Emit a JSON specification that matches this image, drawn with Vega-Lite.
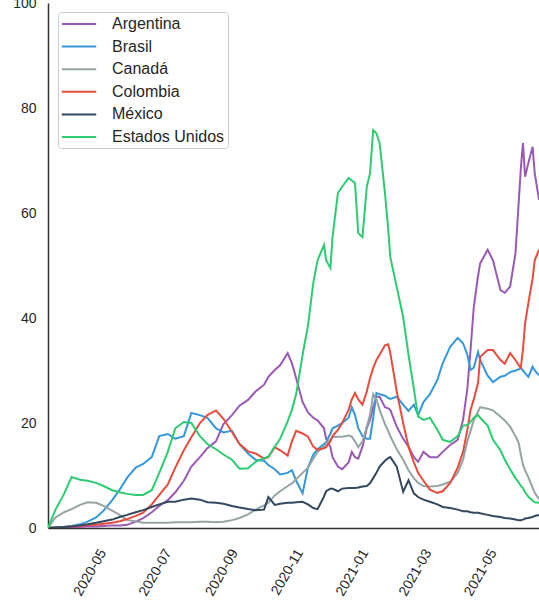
{
  "$schema": "https://vega.github.io/schema/vega-lite/v6.json",
  "width": 491,
  "height": 525,
  "autosize": {"type": "none"},
  "padding": {"left": 48, "top": 3, "right": 0, "bottom": 75},
  "background": "white",
  "data": {
    "values": [
      {"fecha":"2020-03-22","pais":"Argentina","valor":0},{"fecha":"2020-03-29","pais":"Argentina","valor":0.1},{"fecha":"2020-04-06","pais":"Argentina","valor":0.1},{"fecha":"2020-04-13","pais":"Argentina","valor":0.2},{"fecha":"2020-04-21","pais":"Argentina","valor":0.2},{"fecha":"2020-04-28","pais":"Argentina","valor":0.3},{"fecha":"2020-05-06","pais":"Argentina","valor":0.3},{"fecha":"2020-05-13","pais":"Argentina","valor":0.4},{"fecha":"2020-05-21","pais":"Argentina","valor":0.5},{"fecha":"2020-05-28","pais":"Argentina","valor":0.5},{"fecha":"2020-06-04","pais":"Argentina","valor":0.6},{"fecha":"2020-06-12","pais":"Argentina","valor":1.2},{"fecha":"2020-06-19","pais":"Argentina","valor":1.9},{"fecha":"2020-06-27","pais":"Argentina","valor":3.0},{"fecha":"2020-07-04","pais":"Argentina","valor":4.2},{"fecha":"2020-07-12","pais":"Argentina","valor":5.3},{"fecha":"2020-07-19","pais":"Argentina","valor":6.8},{"fecha":"2020-07-27","pais":"Argentina","valor":9.0},{"fecha":"2020-08-03","pais":"Argentina","valor":11.7},{"fecha":"2020-08-11","pais":"Argentina","valor":13.5},{"fecha":"2020-08-18","pais":"Argentina","valor":15.2},{"fecha":"2020-08-26","pais":"Argentina","valor":16.5},{"fecha":"2020-09-02","pais":"Argentina","valor":19.8},{"fecha":"2020-09-10","pais":"Argentina","valor":21.5},{"fecha":"2020-09-17","pais":"Argentina","valor":23.3},{"fecha":"2020-09-25","pais":"Argentina","valor":24.4},{"fecha":"2020-10-02","pais":"Argentina","valor":26.0},{"fecha":"2020-10-10","pais":"Argentina","valor":27.3},{"fecha":"2020-10-14","pais":"Argentina","valor":28.8},{"fecha":"2020-10-20","pais":"Argentina","valor":30.1},{"fecha":"2020-10-25","pais":"Argentina","valor":31.0},{"fecha":"2020-11-01","pais":"Argentina","valor":33.3},{"fecha":"2020-11-05","pais":"Argentina","valor":31.4},{"fecha":"2020-11-09","pais":"Argentina","valor":28.5},{"fecha":"2020-11-15","pais":"Argentina","valor":24.0},{"fecha":"2020-11-20","pais":"Argentina","valor":22.0},{"fecha":"2020-11-25","pais":"Argentina","valor":21.0},{"fecha":"2020-11-29","pais":"Argentina","valor":20.5},{"fecha":"2020-12-05","pais":"Argentina","valor":19.0},{"fecha":"2020-12-07","pais":"Argentina","valor":17.0},{"fecha":"2020-12-11","pais":"Argentina","valor":15.4},{"fecha":"2020-12-13","pais":"Argentina","valor":13.5},{"fecha":"2020-12-18","pais":"Argentina","valor":11.7},{"fecha":"2020-12-22","pais":"Argentina","valor":11.2},{"fecha":"2020-12-28","pais":"Argentina","valor":12.5},{"fecha":"2020-12-31","pais":"Argentina","valor":14.5},{"fecha":"2021-01-03","pais":"Argentina","valor":13.5},{"fecha":"2021-01-06","pais":"Argentina","valor":13.2},{"fecha":"2021-01-10","pais":"Argentina","valor":15.5},{"fecha":"2021-01-14","pais":"Argentina","valor":19.0},{"fecha":"2021-01-17","pais":"Argentina","valor":20.6},{"fecha":"2021-01-20","pais":"Argentina","valor":23.0},{"fecha":"2021-01-23","pais":"Argentina","valor":25.0},{"fecha":"2021-01-26","pais":"Argentina","valor":25.0},{"fecha":"2021-01-31","pais":"Argentina","valor":23.0},{"fecha":"2021-02-03","pais":"Argentina","valor":22.8},{"fecha":"2021-02-05","pais":"Argentina","valor":22.5},{"fecha":"2021-02-11","pais":"Argentina","valor":19.3},{"fecha":"2021-02-17","pais":"Argentina","valor":17.0},{"fecha":"2021-02-22","pais":"Argentina","valor":15.5},{"fecha":"2021-02-27","pais":"Argentina","valor":13.5},{"fecha":"2021-03-03","pais":"Argentina","valor":12.6},{"fecha":"2021-03-08","pais":"Argentina","valor":14.5},{"fecha":"2021-03-14","pais":"Argentina","valor":13.5},{"fecha":"2021-03-21","pais":"Argentina","valor":13.5},{"fecha":"2021-03-26","pais":"Argentina","valor":14.5},{"fecha":"2021-04-02","pais":"Argentina","valor":15.8},{"fecha":"2021-04-09","pais":"Argentina","valor":16.8},{"fecha":"2021-04-14","pais":"Argentina","valor":20.6},{"fecha":"2021-04-18","pais":"Argentina","valor":26.5},{"fecha":"2021-04-21","pais":"Argentina","valor":33.9},{"fecha":"2021-04-24","pais":"Argentina","valor":42.0},{"fecha":"2021-04-28","pais":"Argentina","valor":48.0},{"fecha":"2021-04-30","pais":"Argentina","valor":50.4},{"fecha":"2021-05-07","pais":"Argentina","valor":53.0},{"fecha":"2021-05-12","pais":"Argentina","valor":51.0},{"fecha":"2021-05-19","pais":"Argentina","valor":45.3},{"fecha":"2021-05-23","pais":"Argentina","valor":44.8},{"fecha":"2021-05-28","pais":"Argentina","valor":46.0},{"fecha":"2021-06-02","pais":"Argentina","valor":52.3},{"fecha":"2021-06-05","pais":"Argentina","valor":61.9},{"fecha":"2021-06-07","pais":"Argentina","valor":68.5},{"fecha":"2021-06-09","pais":"Argentina","valor":73.3},{"fecha":"2021-06-11","pais":"Argentina","valor":66.9},{"fecha":"2021-06-14","pais":"Argentina","valor":69.5},{"fecha":"2021-06-18","pais":"Argentina","valor":72.6},{"fecha":"2021-06-20","pais":"Argentina","valor":67.6},{"fecha":"2021-06-24","pais":"Argentina","valor":62.5},
      {"fecha":"2020-03-22","pais":"Brasil","valor":0},{"fecha":"2020-03-29","pais":"Brasil","valor":0.1},{"fecha":"2020-04-06","pais":"Brasil","valor":0.2},{"fecha":"2020-04-13","pais":"Brasil","valor":0.4},{"fecha":"2020-04-21","pais":"Brasil","valor":0.7},{"fecha":"2020-04-28","pais":"Brasil","valor":1.2},{"fecha":"2020-05-06","pais":"Brasil","valor":2.0},{"fecha":"2020-05-13","pais":"Brasil","valor":3.3},{"fecha":"2020-05-21","pais":"Brasil","valor":5.3},{"fecha":"2020-05-28","pais":"Brasil","valor":7.3},{"fecha":"2020-06-04","pais":"Brasil","valor":9.6},{"fecha":"2020-06-12","pais":"Brasil","valor":11.5},{"fecha":"2020-06-19","pais":"Brasil","valor":12.2},{"fecha":"2020-06-27","pais":"Brasil","valor":13.5},{"fecha":"2020-07-04","pais":"Brasil","valor":17.5},{"fecha":"2020-07-12","pais":"Brasil","valor":17.9},{"fecha":"2020-07-19","pais":"Brasil","valor":17.0},{"fecha":"2020-07-27","pais":"Brasil","valor":17.5},{"fecha":"2020-08-03","pais":"Brasil","valor":21.9},{"fecha":"2020-08-11","pais":"Brasil","valor":21.5},{"fecha":"2020-08-18","pais":"Brasil","valor":21.0},{"fecha":"2020-08-26","pais":"Brasil","valor":19.0},{"fecha":"2020-09-02","pais":"Brasil","valor":18.2},{"fecha":"2020-09-10","pais":"Brasil","valor":18.5},{"fecha":"2020-09-17","pais":"Brasil","valor":16.0},{"fecha":"2020-09-25","pais":"Brasil","valor":14.2},{"fecha":"2020-10-02","pais":"Brasil","valor":13.0},{"fecha":"2020-10-10","pais":"Brasil","valor":12.8},{"fecha":"2020-10-14","pais":"Brasil","valor":12.0},{"fecha":"2020-10-20","pais":"Brasil","valor":11.2},{"fecha":"2020-10-25","pais":"Brasil","valor":10.2},{"fecha":"2020-11-01","pais":"Brasil","valor":10.5},{"fecha":"2020-11-05","pais":"Brasil","valor":11.0},{"fecha":"2020-11-09","pais":"Brasil","valor":9.0},{"fecha":"2020-11-15","pais":"Brasil","valor":6.6},{"fecha":"2020-11-20","pais":"Brasil","valor":11.5},{"fecha":"2020-11-25","pais":"Brasil","valor":14.0},{"fecha":"2020-11-29","pais":"Brasil","valor":15.0},{"fecha":"2020-12-05","pais":"Brasil","valor":16.0},{"fecha":"2020-12-07","pais":"Brasil","valor":16.3},{"fecha":"2020-12-11","pais":"Brasil","valor":18.0},{"fecha":"2020-12-13","pais":"Brasil","valor":19.0},{"fecha":"2020-12-18","pais":"Brasil","valor":19.5},{"fecha":"2020-12-22","pais":"Brasil","valor":20.0},{"fecha":"2020-12-28","pais":"Brasil","valor":21.0},{"fecha":"2020-12-31","pais":"Brasil","valor":23.0},{"fecha":"2021-01-03","pais":"Brasil","valor":21.5},{"fecha":"2021-01-06","pais":"Brasil","valor":19.0},{"fecha":"2021-01-10","pais":"Brasil","valor":17.5},{"fecha":"2021-01-14","pais":"Brasil","valor":17.0},{"fecha":"2021-01-17","pais":"Brasil","valor":17.0},{"fecha":"2021-01-20","pais":"Brasil","valor":21.0},{"fecha":"2021-01-23","pais":"Brasil","valor":25.7},{"fecha":"2021-01-26","pais":"Brasil","valor":25.5},{"fecha":"2021-01-31","pais":"Brasil","valor":25.2},{"fecha":"2021-02-03","pais":"Brasil","valor":24.8},{"fecha":"2021-02-05","pais":"Brasil","valor":24.6},{"fecha":"2021-02-11","pais":"Brasil","valor":25.0},{"fecha":"2021-02-17","pais":"Brasil","valor":23.5},{"fecha":"2021-02-22","pais":"Brasil","valor":22.3},{"fecha":"2021-02-27","pais":"Brasil","valor":23.5},{"fecha":"2021-03-03","pais":"Brasil","valor":21.5},{"fecha":"2021-03-08","pais":"Brasil","valor":24.0},{"fecha":"2021-03-14","pais":"Brasil","valor":25.5},{"fecha":"2021-03-21","pais":"Brasil","valor":28.2},{"fecha":"2021-03-26","pais":"Brasil","valor":31.4},{"fecha":"2021-04-02","pais":"Brasil","valor":34.5},{"fecha":"2021-04-09","pais":"Brasil","valor":36.2},{"fecha":"2021-04-14","pais":"Brasil","valor":35.2},{"fecha":"2021-04-18","pais":"Brasil","valor":33.0},{"fecha":"2021-04-21","pais":"Brasil","valor":30.1},{"fecha":"2021-04-24","pais":"Brasil","valor":30.5},{"fecha":"2021-04-28","pais":"Brasil","valor":33.5},{"fecha":"2021-04-30","pais":"Brasil","valor":32.0},{"fecha":"2021-05-07","pais":"Brasil","valor":29.0},{"fecha":"2021-05-12","pais":"Brasil","valor":27.8},{"fecha":"2021-05-19","pais":"Brasil","valor":28.8},{"fecha":"2021-05-23","pais":"Brasil","valor":29.0},{"fecha":"2021-05-28","pais":"Brasil","valor":29.7},{"fecha":"2021-06-02","pais":"Brasil","valor":30.0},{"fecha":"2021-06-05","pais":"Brasil","valor":30.2},{"fecha":"2021-06-07","pais":"Brasil","valor":30.5},{"fecha":"2021-06-09","pais":"Brasil","valor":30.0},{"fecha":"2021-06-11","pais":"Brasil","valor":29.5},{"fecha":"2021-06-14","pais":"Brasil","valor":28.8},{"fecha":"2021-06-18","pais":"Brasil","valor":30.7},{"fecha":"2021-06-20","pais":"Brasil","valor":30.0},{"fecha":"2021-06-24","pais":"Brasil","valor":29.1},
      {"fecha":"2020-03-22","pais":"Canadá","valor":0},{"fecha":"2020-03-29","pais":"Canadá","valor":2.0},{"fecha":"2020-04-06","pais":"Canadá","valor":3.0},{"fecha":"2020-04-13","pais":"Canadá","valor":3.6},{"fecha":"2020-04-21","pais":"Canadá","valor":4.4},{"fecha":"2020-04-28","pais":"Canadá","valor":4.9},{"fecha":"2020-05-06","pais":"Canadá","valor":4.8},{"fecha":"2020-05-13","pais":"Canadá","valor":4.2},{"fecha":"2020-05-21","pais":"Canadá","valor":3.3},{"fecha":"2020-05-28","pais":"Canadá","valor":2.5},{"fecha":"2020-06-04","pais":"Canadá","valor":1.5},{"fecha":"2020-06-12","pais":"Canadá","valor":1.3},{"fecha":"2020-06-19","pais":"Canadá","valor":1.0},{"fecha":"2020-06-27","pais":"Canadá","valor":1.0},{"fecha":"2020-07-04","pais":"Canadá","valor":1.0},{"fecha":"2020-07-12","pais":"Canadá","valor":1.0},{"fecha":"2020-07-19","pais":"Canadá","valor":1.1},{"fecha":"2020-07-27","pais":"Canadá","valor":1.1},{"fecha":"2020-08-03","pais":"Canadá","valor":1.1},{"fecha":"2020-08-11","pais":"Canadá","valor":1.2},{"fecha":"2020-08-18","pais":"Canadá","valor":1.2},{"fecha":"2020-08-26","pais":"Canadá","valor":1.1},{"fecha":"2020-09-02","pais":"Canadá","valor":1.2},{"fecha":"2020-09-10","pais":"Canadá","valor":1.5},{"fecha":"2020-09-17","pais":"Canadá","valor":1.9},{"fecha":"2020-09-25","pais":"Canadá","valor":2.6},{"fecha":"2020-10-02","pais":"Canadá","valor":3.5},{"fecha":"2020-10-10","pais":"Canadá","valor":4.3},{"fecha":"2020-10-14","pais":"Canadá","valor":4.8},{"fecha":"2020-10-20","pais":"Canadá","valor":6.2},{"fecha":"2020-10-25","pais":"Canadá","valor":7.0},{"fecha":"2020-11-01","pais":"Canadá","valor":8.0},{"fecha":"2020-11-05","pais":"Canadá","valor":8.5},{"fecha":"2020-11-09","pais":"Canadá","valor":9.3},{"fecha":"2020-11-15","pais":"Canadá","valor":10.5},{"fecha":"2020-11-20","pais":"Canadá","valor":11.5},{"fecha":"2020-11-25","pais":"Canadá","valor":13.2},{"fecha":"2020-11-29","pais":"Canadá","valor":14.5},{"fecha":"2020-12-05","pais":"Canadá","valor":15.5},{"fecha":"2020-12-07","pais":"Canadá","valor":16.0},{"fecha":"2020-12-11","pais":"Canadá","valor":16.8},{"fecha":"2020-12-13","pais":"Canadá","valor":17.3},{"fecha":"2020-12-18","pais":"Canadá","valor":17.4},{"fecha":"2020-12-22","pais":"Canadá","valor":17.4},{"fecha":"2020-12-28","pais":"Canadá","valor":17.6},{"fecha":"2020-12-31","pais":"Canadá","valor":17.4},{"fecha":"2021-01-03","pais":"Canadá","valor":16.5},{"fecha":"2021-01-06","pais":"Canadá","valor":15.4},{"fecha":"2021-01-10","pais":"Canadá","valor":16.5},{"fecha":"2021-01-14","pais":"Canadá","valor":19.3},{"fecha":"2021-01-17","pais":"Canadá","valor":21.5},{"fecha":"2021-01-20","pais":"Canadá","valor":25.5},{"fecha":"2021-01-23","pais":"Canadá","valor":24.5},{"fecha":"2021-01-26","pais":"Canadá","valor":22.5},{"fecha":"2021-01-31","pais":"Canadá","valor":19.8},{"fecha":"2021-02-03","pais":"Canadá","valor":18.5},{"fecha":"2021-02-05","pais":"Canadá","valor":17.5},{"fecha":"2021-02-11","pais":"Canadá","valor":15.0},{"fecha":"2021-02-17","pais":"Canadá","valor":13.0},{"fecha":"2021-02-22","pais":"Canadá","valor":11.0},{"fecha":"2021-02-27","pais":"Canadá","valor":9.5},{"fecha":"2021-03-03","pais":"Canadá","valor":8.6},{"fecha":"2021-03-08","pais":"Canadá","valor":8.0},{"fecha":"2021-03-14","pais":"Canadá","valor":7.9},{"fecha":"2021-03-21","pais":"Canadá","valor":8.0},{"fecha":"2021-03-26","pais":"Canadá","valor":8.3},{"fecha":"2021-04-02","pais":"Canadá","valor":8.8},{"fecha":"2021-04-09","pais":"Canadá","valor":10.5},{"fecha":"2021-04-14","pais":"Canadá","valor":13.0},{"fecha":"2021-04-18","pais":"Canadá","valor":16.5},{"fecha":"2021-04-21","pais":"Canadá","valor":18.5},{"fecha":"2021-04-24","pais":"Canadá","valor":20.5},{"fecha":"2021-04-28","pais":"Canadá","valor":22.2},{"fecha":"2021-04-30","pais":"Canadá","valor":23.0},{"fecha":"2021-05-07","pais":"Canadá","valor":22.7},{"fecha":"2021-05-12","pais":"Canadá","valor":22.4},{"fecha":"2021-05-19","pais":"Canadá","valor":21.2},{"fecha":"2021-05-23","pais":"Canadá","valor":20.5},{"fecha":"2021-05-28","pais":"Canadá","valor":19.3},{"fecha":"2021-06-02","pais":"Canadá","valor":17.5},{"fecha":"2021-06-05","pais":"Canadá","valor":16.2},{"fecha":"2021-06-07","pais":"Canadá","valor":14.0},{"fecha":"2021-06-09","pais":"Canadá","valor":12.0},{"fecha":"2021-06-11","pais":"Canadá","valor":11.0},{"fecha":"2021-06-14","pais":"Canadá","valor":9.7},{"fecha":"2021-06-18","pais":"Canadá","valor":7.7},{"fecha":"2021-06-20","pais":"Canadá","valor":6.7},{"fecha":"2021-06-24","pais":"Canadá","valor":5.5},
      {"fecha":"2020-03-22","pais":"Colombia","valor":0},{"fecha":"2020-03-29","pais":"Colombia","valor":0.1},{"fecha":"2020-04-06","pais":"Colombia","valor":0.2},{"fecha":"2020-04-13","pais":"Colombia","valor":0.3},{"fecha":"2020-04-21","pais":"Colombia","valor":0.4},{"fecha":"2020-04-28","pais":"Colombia","valor":0.5},{"fecha":"2020-05-06","pais":"Colombia","valor":0.6},{"fecha":"2020-05-13","pais":"Colombia","valor":0.8},{"fecha":"2020-05-21","pais":"Colombia","valor":1.0},{"fecha":"2020-05-28","pais":"Colombia","valor":1.3},{"fecha":"2020-06-04","pais":"Colombia","valor":1.7},{"fecha":"2020-06-12","pais":"Colombia","valor":2.3},{"fecha":"2020-06-19","pais":"Colombia","valor":2.9},{"fecha":"2020-06-27","pais":"Colombia","valor":4.5},{"fecha":"2020-07-04","pais":"Colombia","valor":6.3},{"fecha":"2020-07-12","pais":"Colombia","valor":8.3},{"fecha":"2020-07-19","pais":"Colombia","valor":11.5},{"fecha":"2020-07-27","pais":"Colombia","valor":14.8},{"fecha":"2020-08-03","pais":"Colombia","valor":17.3},{"fecha":"2020-08-11","pais":"Colombia","valor":20.0},{"fecha":"2020-08-18","pais":"Colombia","valor":21.5},{"fecha":"2020-08-26","pais":"Colombia","valor":22.4},{"fecha":"2020-09-02","pais":"Colombia","valor":20.8},{"fecha":"2020-09-10","pais":"Colombia","valor":18.3},{"fecha":"2020-09-17","pais":"Colombia","valor":16.0},{"fecha":"2020-09-25","pais":"Colombia","valor":14.6},{"fecha":"2020-10-02","pais":"Colombia","valor":14.2},{"fecha":"2020-10-10","pais":"Colombia","valor":13.2},{"fecha":"2020-10-14","pais":"Colombia","valor":13.5},{"fecha":"2020-10-20","pais":"Colombia","valor":15.4},{"fecha":"2020-10-25","pais":"Colombia","valor":14.8},{"fecha":"2020-11-01","pais":"Colombia","valor":13.8},{"fecha":"2020-11-05","pais":"Colombia","valor":16.5},{"fecha":"2020-11-09","pais":"Colombia","valor":18.5},{"fecha":"2020-11-15","pais":"Colombia","valor":18.0},{"fecha":"2020-11-20","pais":"Colombia","valor":17.4},{"fecha":"2020-11-25","pais":"Colombia","valor":15.5},{"fecha":"2020-11-29","pais":"Colombia","valor":14.9},{"fecha":"2020-12-05","pais":"Colombia","valor":15.2},{"fecha":"2020-12-07","pais":"Colombia","valor":15.4},{"fecha":"2020-12-11","pais":"Colombia","valor":16.5},{"fecha":"2020-12-13","pais":"Colombia","valor":17.5},{"fecha":"2020-12-18","pais":"Colombia","valor":18.7},{"fecha":"2020-12-22","pais":"Colombia","valor":20.0},{"fecha":"2020-12-28","pais":"Colombia","valor":22.5},{"fecha":"2020-12-31","pais":"Colombia","valor":24.5},{"fecha":"2021-01-03","pais":"Colombia","valor":25.7},{"fecha":"2021-01-06","pais":"Colombia","valor":24.5},{"fecha":"2021-01-10","pais":"Colombia","valor":23.5},{"fecha":"2021-01-14","pais":"Colombia","valor":26.0},{"fecha":"2021-01-17","pais":"Colombia","valor":28.5},{"fecha":"2021-01-20","pais":"Colombia","valor":30.5},{"fecha":"2021-01-23","pais":"Colombia","valor":32.0},{"fecha":"2021-01-26","pais":"Colombia","valor":33.0},{"fecha":"2021-01-31","pais":"Colombia","valor":34.8},{"fecha":"2021-02-03","pais":"Colombia","valor":35.0},{"fecha":"2021-02-05","pais":"Colombia","valor":33.3},{"fecha":"2021-02-11","pais":"Colombia","valor":26.0},{"fecha":"2021-02-17","pais":"Colombia","valor":20.0},{"fecha":"2021-02-22","pais":"Colombia","valor":15.5},{"fecha":"2021-02-27","pais":"Colombia","valor":12.5},{"fecha":"2021-03-03","pais":"Colombia","valor":10.5},{"fecha":"2021-03-08","pais":"Colombia","valor":9.0},{"fecha":"2021-03-14","pais":"Colombia","valor":7.3},{"fecha":"2021-03-21","pais":"Colombia","valor":6.7},{"fecha":"2021-03-26","pais":"Colombia","valor":7.0},{"fecha":"2021-04-02","pais":"Colombia","valor":8.6},{"fecha":"2021-04-09","pais":"Colombia","valor":11.5},{"fecha":"2021-04-14","pais":"Colombia","valor":14.5},{"fecha":"2021-04-18","pais":"Colombia","valor":18.7},{"fecha":"2021-04-21","pais":"Colombia","valor":22.5},{"fecha":"2021-04-24","pais":"Colombia","valor":24.5},{"fecha":"2021-04-28","pais":"Colombia","valor":27.6},{"fecha":"2021-04-30","pais":"Colombia","valor":32.6},{"fecha":"2021-05-07","pais":"Colombia","valor":33.9},{"fecha":"2021-05-12","pais":"Colombia","valor":33.9},{"fecha":"2021-05-19","pais":"Colombia","valor":32.0},{"fecha":"2021-05-23","pais":"Colombia","valor":31.3},{"fecha":"2021-05-28","pais":"Colombia","valor":33.3},{"fecha":"2021-06-02","pais":"Colombia","valor":32.0},{"fecha":"2021-06-05","pais":"Colombia","valor":31.0},{"fecha":"2021-06-07","pais":"Colombia","valor":30.5},{"fecha":"2021-06-09","pais":"Colombia","valor":34.0},{"fecha":"2021-06-11","pais":"Colombia","valor":39.0},{"fecha":"2021-06-14","pais":"Colombia","valor":42.8},{"fecha":"2021-06-18","pais":"Colombia","valor":47.5},{"fecha":"2021-06-20","pais":"Colombia","valor":51.0},{"fecha":"2021-06-24","pais":"Colombia","valor":53.0},
      {"fecha":"2020-03-22","pais":"México","valor":0},{"fecha":"2020-03-29","pais":"México","valor":0.1},{"fecha":"2020-04-06","pais":"México","valor":0.2},{"fecha":"2020-04-13","pais":"México","valor":0.3},{"fecha":"2020-04-21","pais":"México","valor":0.5},{"fecha":"2020-04-28","pais":"México","valor":0.7},{"fecha":"2020-05-06","pais":"México","valor":1.0},{"fecha":"2020-05-13","pais":"México","valor":1.3},{"fecha":"2020-05-21","pais":"México","valor":1.6},{"fecha":"2020-05-28","pais":"México","valor":2.1},{"fecha":"2020-06-04","pais":"México","valor":2.5},{"fecha":"2020-06-12","pais":"México","valor":3.0},{"fecha":"2020-06-19","pais":"México","valor":3.4},{"fecha":"2020-06-27","pais":"México","valor":4.0},{"fecha":"2020-07-04","pais":"México","valor":4.5},{"fecha":"2020-07-12","pais":"México","valor":5.0},{"fecha":"2020-07-19","pais":"México","valor":5.0},{"fecha":"2020-07-27","pais":"México","valor":5.4},{"fecha":"2020-08-03","pais":"México","valor":5.6},{"fecha":"2020-08-11","pais":"México","valor":5.4},{"fecha":"2020-08-18","pais":"México","valor":4.9},{"fecha":"2020-08-26","pais":"México","valor":4.8},{"fecha":"2020-09-02","pais":"México","valor":4.6},{"fecha":"2020-09-10","pais":"México","valor":4.2},{"fecha":"2020-09-17","pais":"México","valor":3.9},{"fecha":"2020-09-25","pais":"México","valor":3.6},{"fecha":"2020-10-02","pais":"México","valor":3.4},{"fecha":"2020-10-10","pais":"México","valor":3.5},{"fecha":"2020-10-14","pais":"México","valor":5.9},{"fecha":"2020-10-20","pais":"México","valor":4.4},{"fecha":"2020-10-25","pais":"México","valor":4.6},{"fecha":"2020-11-01","pais":"México","valor":4.8},{"fecha":"2020-11-05","pais":"México","valor":4.8},{"fecha":"2020-11-09","pais":"México","valor":4.9},{"fecha":"2020-11-15","pais":"México","valor":5.0},{"fecha":"2020-11-20","pais":"México","valor":4.5},{"fecha":"2020-11-25","pais":"México","valor":3.8},{"fecha":"2020-11-29","pais":"México","valor":3.6},{"fecha":"2020-12-05","pais":"México","valor":6.0},{"fecha":"2020-12-07","pais":"México","valor":7.0},{"fecha":"2020-12-11","pais":"México","valor":7.5},{"fecha":"2020-12-13","pais":"México","valor":7.5},{"fecha":"2020-12-18","pais":"México","valor":7.0},{"fecha":"2020-12-22","pais":"México","valor":7.5},{"fecha":"2020-12-28","pais":"México","valor":7.6},{"fecha":"2020-12-31","pais":"México","valor":7.6},{"fecha":"2021-01-03","pais":"México","valor":7.6},{"fecha":"2021-01-06","pais":"México","valor":7.7},{"fecha":"2021-01-10","pais":"México","valor":7.9},{"fecha":"2021-01-14","pais":"México","valor":8.0},{"fecha":"2021-01-17","pais":"México","valor":8.5},{"fecha":"2021-01-20","pais":"México","valor":9.5},{"fecha":"2021-01-23","pais":"México","valor":10.5},{"fecha":"2021-01-26","pais":"México","valor":11.7},{"fecha":"2021-01-31","pais":"México","valor":12.8},{"fecha":"2021-02-03","pais":"México","valor":13.3},{"fecha":"2021-02-05","pais":"México","valor":13.5},{"fecha":"2021-02-11","pais":"México","valor":11.7},{"fecha":"2021-02-17","pais":"México","valor":6.9},{"fecha":"2021-02-22","pais":"México","valor":9.1},{"fecha":"2021-02-27","pais":"México","valor":6.6},{"fecha":"2021-03-03","pais":"México","valor":5.9},{"fecha":"2021-03-08","pais":"México","valor":5.4},{"fecha":"2021-03-14","pais":"México","valor":5.0},{"fecha":"2021-03-21","pais":"México","valor":4.5},{"fecha":"2021-03-26","pais":"México","valor":4.0},{"fecha":"2021-04-02","pais":"México","valor":3.8},{"fecha":"2021-04-09","pais":"México","valor":3.5},{"fecha":"2021-04-14","pais":"México","valor":3.2},{"fecha":"2021-04-18","pais":"México","valor":3.2},{"fecha":"2021-04-21","pais":"México","valor":3.0},{"fecha":"2021-04-24","pais":"México","valor":2.9},{"fecha":"2021-04-28","pais":"México","valor":2.9},{"fecha":"2021-04-30","pais":"México","valor":2.8},{"fecha":"2021-05-07","pais":"México","valor":2.5},{"fecha":"2021-05-12","pais":"México","valor":2.3},{"fecha":"2021-05-19","pais":"México","valor":2.1},{"fecha":"2021-05-23","pais":"México","valor":1.9},{"fecha":"2021-05-28","pais":"México","valor":1.8},{"fecha":"2021-06-02","pais":"México","valor":1.6},{"fecha":"2021-06-05","pais":"México","valor":1.5},{"fecha":"2021-06-07","pais":"México","valor":1.5},{"fecha":"2021-06-09","pais":"México","valor":1.6},{"fecha":"2021-06-11","pais":"México","valor":1.8},{"fecha":"2021-06-14","pais":"México","valor":1.9},{"fecha":"2021-06-18","pais":"México","valor":2.1},{"fecha":"2021-06-20","pais":"México","valor":2.3},{"fecha":"2021-06-24","pais":"México","valor":2.5},
      {"fecha":"2020-03-22","pais":"Estados Unidos","valor":0},{"fecha":"2020-03-29","pais":"Estados Unidos","valor":3.5},{"fecha":"2020-04-06","pais":"Estados Unidos","valor":6.5},{"fecha":"2020-04-13","pais":"Estados Unidos","valor":9.7},{"fecha":"2020-04-21","pais":"Estados Unidos","valor":9.2},{"fecha":"2020-04-28","pais":"Estados Unidos","valor":9.0},{"fecha":"2020-05-06","pais":"Estados Unidos","valor":8.6},{"fecha":"2020-05-13","pais":"Estados Unidos","valor":8.0},{"fecha":"2020-05-21","pais":"Estados Unidos","valor":7.2},{"fecha":"2020-05-28","pais":"Estados Unidos","valor":6.8},{"fecha":"2020-06-04","pais":"Estados Unidos","valor":6.5},{"fecha":"2020-06-12","pais":"Estados Unidos","valor":6.3},{"fecha":"2020-06-19","pais":"Estados Unidos","valor":6.3},{"fecha":"2020-06-27","pais":"Estados Unidos","valor":7.2},{"fecha":"2020-07-04","pais":"Estados Unidos","valor":10.5},{"fecha":"2020-07-12","pais":"Estados Unidos","valor":14.5},{"fecha":"2020-07-19","pais":"Estados Unidos","valor":19.0},{"fecha":"2020-07-27","pais":"Estados Unidos","valor":20.2},{"fecha":"2020-08-03","pais":"Estados Unidos","valor":20.0},{"fecha":"2020-08-11","pais":"Estados Unidos","valor":17.5},{"fecha":"2020-08-18","pais":"Estados Unidos","valor":16.0},{"fecha":"2020-08-26","pais":"Estados Unidos","valor":15.0},{"fecha":"2020-09-02","pais":"Estados Unidos","valor":14.0},{"fecha":"2020-09-10","pais":"Estados Unidos","valor":13.0},{"fecha":"2020-09-17","pais":"Estados Unidos","valor":11.3},{"fecha":"2020-09-25","pais":"Estados Unidos","valor":11.4},{"fecha":"2020-10-02","pais":"Estados Unidos","valor":12.6},{"fecha":"2020-10-10","pais":"Estados Unidos","valor":13.3},{"fecha":"2020-10-14","pais":"Estados Unidos","valor":13.6},{"fecha":"2020-10-20","pais":"Estados Unidos","valor":15.5},{"fecha":"2020-10-25","pais":"Estados Unidos","valor":17.0},{"fecha":"2020-11-01","pais":"Estados Unidos","valor":20.3},{"fecha":"2020-11-05","pais":"Estados Unidos","valor":22.5},{"fecha":"2020-11-09","pais":"Estados Unidos","valor":25.5},{"fecha":"2020-11-15","pais":"Estados Unidos","valor":33.0},{"fecha":"2020-11-20","pais":"Estados Unidos","valor":38.5},{"fecha":"2020-11-25","pais":"Estados Unidos","valor":46.7},{"fecha":"2020-11-29","pais":"Estados Unidos","valor":51.0},{"fecha":"2020-12-05","pais":"Estados Unidos","valor":53.9},{"fecha":"2020-12-07","pais":"Estados Unidos","valor":51.0},{"fecha":"2020-12-11","pais":"Estados Unidos","valor":49.5},{"fecha":"2020-12-13","pais":"Estados Unidos","valor":55.4},{"fecha":"2020-12-18","pais":"Estados Unidos","valor":63.8},{"fecha":"2020-12-22","pais":"Estados Unidos","valor":65.0},{"fecha":"2020-12-28","pais":"Estados Unidos","valor":66.7},{"fecha":"2020-12-31","pais":"Estados Unidos","valor":66.2},{"fecha":"2021-01-03","pais":"Estados Unidos","valor":65.7},{"fecha":"2021-01-06","pais":"Estados Unidos","valor":56.2},{"fecha":"2021-01-10","pais":"Estados Unidos","valor":55.4},{"fecha":"2021-01-14","pais":"Estados Unidos","valor":65.0},{"fecha":"2021-01-17","pais":"Estados Unidos","valor":67.5},{"fecha":"2021-01-20","pais":"Estados Unidos","valor":75.8},{"fecha":"2021-01-23","pais":"Estados Unidos","valor":75.2},{"fecha":"2021-01-26","pais":"Estados Unidos","valor":73.3},{"fecha":"2021-01-31","pais":"Estados Unidos","valor":63.8},{"fecha":"2021-02-03","pais":"Estados Unidos","valor":57.0},{"fecha":"2021-02-05","pais":"Estados Unidos","valor":51.6},{"fecha":"2021-02-11","pais":"Estados Unidos","valor":45.9},{"fecha":"2021-02-17","pais":"Estados Unidos","valor":40.2},{"fecha":"2021-02-22","pais":"Estados Unidos","valor":33.0},{"fecha":"2021-02-27","pais":"Estados Unidos","valor":26.5},{"fecha":"2021-03-03","pais":"Estados Unidos","valor":21.2},{"fecha":"2021-03-08","pais":"Estados Unidos","valor":20.6},{"fecha":"2021-03-14","pais":"Estados Unidos","valor":21.0},{"fecha":"2021-03-21","pais":"Estados Unidos","valor":18.7},{"fecha":"2021-03-26","pais":"Estados Unidos","valor":16.8},{"fecha":"2021-04-02","pais":"Estados Unidos","valor":16.4},{"fecha":"2021-04-09","pais":"Estados Unidos","valor":17.5},{"fecha":"2021-04-14","pais":"Estados Unidos","valor":19.5},{"fecha":"2021-04-18","pais":"Estados Unidos","valor":19.6},{"fecha":"2021-04-21","pais":"Estados Unidos","valor":20.2},{"fecha":"2021-04-24","pais":"Estados Unidos","valor":21.0},{"fecha":"2021-04-28","pais":"Estados Unidos","valor":21.5},{"fecha":"2021-04-30","pais":"Estados Unidos","valor":21.0},{"fecha":"2021-05-07","pais":"Estados Unidos","valor":19.5},{"fecha":"2021-05-12","pais":"Estados Unidos","valor":16.8},{"fecha":"2021-05-19","pais":"Estados Unidos","valor":14.8},{"fecha":"2021-05-23","pais":"Estados Unidos","valor":13.0},{"fecha":"2021-05-28","pais":"Estados Unidos","valor":11.2},{"fecha":"2021-06-02","pais":"Estados Unidos","valor":9.5},{"fecha":"2021-06-05","pais":"Estados Unidos","valor":8.7},{"fecha":"2021-06-07","pais":"Estados Unidos","valor":8.0},{"fecha":"2021-06-09","pais":"Estados Unidos","valor":7.6},{"fecha":"2021-06-11","pais":"Estados Unidos","valor":6.8},{"fecha":"2021-06-14","pais":"Estados Unidos","valor":6.0},{"fecha":"2021-06-18","pais":"Estados Unidos","valor":5.2},{"fecha":"2021-06-20","pais":"Estados Unidos","valor":4.9},{"fecha":"2021-06-24","pais":"Estados Unidos","valor":4.8}
    ]
  },
  "mark": {"type": "line", "strokeWidth": 2, "clip": true},
  "encoding": {
    "x": {
      "field": "fecha",
      "type": "temporal",
      "title": null,
      "scale": {"type": "utc", "domain": [{"year": 2020, "month": 3, "date": 22, "utc": true}, {"year": 2021, "month": 6, "date": 24, "utc": true}]},
      "axis": {"format": "%Y-%m", "tickCount": {"interval": "month", "step": 2}, "labelAngle": -60, "labelAlign": "right", "labelBaseline": "middle", "labelOffset": 12, "labelPadding": 22, "labelFlush": false, "labelOverlap": false}
    },
    "y": {
      "field": "valor",
      "type": "quantitative",
      "title": null,
      "scale": {"domain": [0, 100], "nice": false},
      "axis": {"values": [0, 20, 40, 60, 80, 100], "labelPadding": 12}
    },
    "color": {
      "field": "pais",
      "type": "nominal",
      "scale": {
        "domain": ["Argentina", "Brasil", "Canadá", "Colombia", "México", "Estados Unidos"],
        "range": ["#9b59b6", "#3498db", "#95a5a6", "#e74c3c", "#34495e", "#2ecc71"]
      },
      "legend": {
        "title": null,
        "orient": "none",
        "legendX": 10,
        "legendY": 9,
        "symbolType": "M-2.15,0L2.15,0",
        "symbolStrokeWidth": 2,
        "symbolSize": 256,
        "symbolOffset": 9,
        "labelFontSize": 16,
        "labelColor": "#262626",
        "strokeColor": "#cccccc",
        "fillColor": "#ffffff",
        "padding": 3,
        "cornerRadius": 3,
        "rowPadding": 5.6,
        "labelOffset": 24
      }
    }
  },
  "config": {
    "font": "Liberation Sans",
    "view": {"stroke": null},
    "axis": {"grid": false, "ticks": false, "domainColor": "#333333", "domainWidth": 1.5, "labelColor": "#262626", "labelFontSize": 14, "labelFont": "Liberation Sans"},
    "legend": {"labelFont": "Liberation Sans"}
  }
}
